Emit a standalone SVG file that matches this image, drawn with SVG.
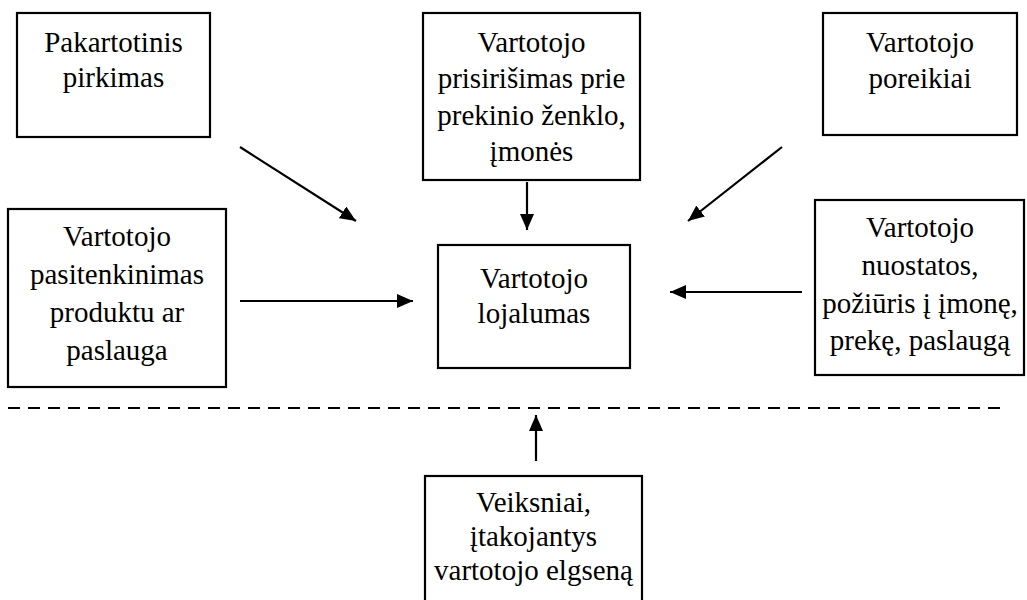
<svg xmlns="http://www.w3.org/2000/svg" width="1027" height="600" viewBox="0 0 1027 600">
<style>
.box{fill:#fff;stroke:#000;stroke-width:2.2}
.c{stroke:#000;stroke-width:2.2;fill:none}
.dash{stroke:#000;stroke-width:2;stroke-dasharray:12 8;fill:none}
</style>
<defs>
<marker id="ah" viewBox="0 0 16 14" refX="16" refY="7" markerWidth="16" markerHeight="14" markerUnits="userSpaceOnUse" orient="auto">
<path d="M0,0 L16,7 L0,14 z" fill="#000"/>
</marker>
</defs>
<rect width="1027" height="600" fill="#fff"/>
<g id="n-pakartotinis">
<rect class="box" x="17" y="13" width="193" height="124"/>
<text style="font-family:'Liberation Serif',serif;font-size:29px" text-anchor="middle" x="113.5" y="52">Pakartotinis</text>
<text style="font-family:'Liberation Serif',serif;font-size:29px" text-anchor="middle" x="113.5" y="87">pirkimas</text>
</g>
<g id="n-prisirisimas">
<rect class="box" x="423" y="13" width="217" height="167"/>
<text style="font-family:'Liberation Serif',serif;font-size:29px" text-anchor="middle" x="531.5" y="52">Vartotojo</text>
<text style="font-family:'Liberation Serif',serif;font-size:29px" text-anchor="middle" x="531.5" y="88">prisiri&#353;imas prie</text>
<text style="font-family:'Liberation Serif',serif;font-size:29px" text-anchor="middle" x="531.5" y="125">prekinio &#382;enklo,</text>
<text style="font-family:'Liberation Serif',serif;font-size:29px" text-anchor="middle" x="531.5" y="161">&#303;mon&#279;s</text>
</g>
<g id="n-poreikiai">
<rect class="box" x="823" y="13" width="194" height="122"/>
<text style="font-family:'Liberation Serif',serif;font-size:29px" text-anchor="middle" x="920" y="52">Vartotojo</text>
<text style="font-family:'Liberation Serif',serif;font-size:29px" text-anchor="middle" x="920" y="88">poreikiai</text>
</g>
<g id="n-pasitenkinimas">
<rect class="box" x="8" y="209" width="218" height="178"/>
<text style="font-family:'Liberation Serif',serif;font-size:29px" text-anchor="middle" x="117" y="246">Vartotojo</text>
<text style="font-family:'Liberation Serif',serif;font-size:29px" text-anchor="middle" x="117" y="284">pasitenkinimas</text>
<text style="font-family:'Liberation Serif',serif;font-size:29px" text-anchor="middle" x="117" y="322">produktu ar</text>
<text style="font-family:'Liberation Serif',serif;font-size:29px" text-anchor="middle" x="117" y="360">paslauga</text>
</g>
<g id="n-lojalumas">
<rect class="box" x="438" y="245" width="192" height="123"/>
<text style="font-family:'Liberation Serif',serif;font-size:29px" text-anchor="middle" x="534" y="288">Vartotojo</text>
<text style="font-family:'Liberation Serif',serif;font-size:29px" text-anchor="middle" x="534" y="323">lojalumas</text>
</g>
<g id="n-nuostatos">
<rect class="box" x="815" y="200" width="209" height="175"/>
<text style="font-family:'Liberation Serif',serif;font-size:29px" text-anchor="middle" x="920" y="237">Vartotojo</text>
<text style="font-family:'Liberation Serif',serif;font-size:29px" text-anchor="middle" x="920" y="275">nuostatos,</text>
<text style="font-family:'Liberation Serif',serif;font-size:29px" text-anchor="middle" x="920" y="313">po&#382;i&#363;ris &#303; &#303;mon&#281;,</text>
<text style="font-family:'Liberation Serif',serif;font-size:29px" text-anchor="middle" x="920" y="350">prek&#281;, paslaug&#261;</text>
</g>
<g id="n-veiksniai">
<rect class="box" x="425" y="476" width="217" height="140"/>
<text style="font-family:'Liberation Serif',serif;font-size:29px" text-anchor="middle" x="533.5" y="512">Veiksniai,</text>
<text style="font-family:'Liberation Serif',serif;font-size:29px" text-anchor="middle" x="533.5" y="546">&#303;takojantys</text>
<text style="font-family:'Liberation Serif',serif;font-size:29px" text-anchor="middle" x="533.5" y="580">vartotojo elgsen&#261;</text>
</g>
<g id="connectors">
<line class="c" x1="240" y1="147" x2="356" y2="221" marker-end="url(#ah)"/>
<line class="c" x1="527" y1="182" x2="527" y2="230" marker-end="url(#ah)"/>
<line class="c" x1="782" y1="147" x2="688" y2="221" marker-end="url(#ah)"/>
<line class="c" x1="240" y1="301" x2="413" y2="301" marker-end="url(#ah)"/>
<line class="c" x1="802" y1="292" x2="670" y2="292" marker-end="url(#ah)"/>
<line class="c" x1="536" y1="461" x2="536" y2="415" marker-end="url(#ah)"/>
<line class="dash" x1="8" y1="408" x2="1008" y2="408"/>
</g>
</svg>
